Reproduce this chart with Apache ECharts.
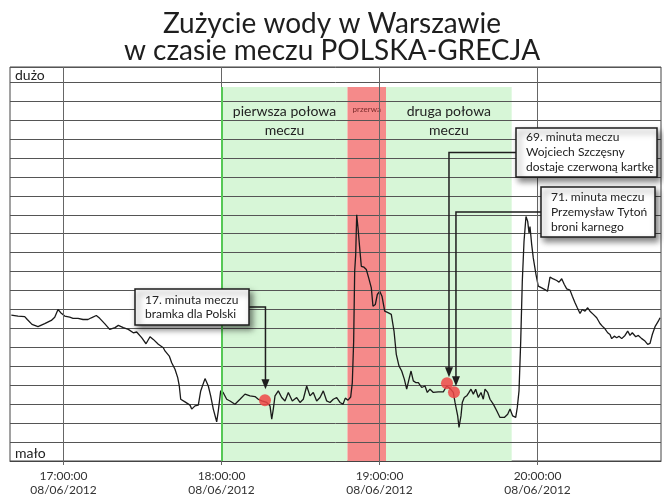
<!DOCTYPE html>
<html><head><meta charset="utf-8">
<script src="https://cdn.jsdelivr.net/npm/echarts@6/dist/echarts.min.js"></script>
<style>html,body{margin:0;padding:0;background:#fff}#c{width:664px;height:497px}</style>
</head><body><div id="c"></div>
<script>
// ---------------- data ----------------
const times = ["16:40:11","16:42:43","16:45:16","16:46:15","16:48:02","16:50:19","16:52:52","16:55:22","16:56:40","16:57:55","16:58:56","17:00:28","17:02:21","17:03:37","17:05:31","17:07:24","17:09:18","17:10:34","17:12:27","17:13:45","17:15:38","17:17:32","17:19:34","17:20:49","17:22:43","17:24:37","17:26:30","17:27:47","17:29:41","17:31:20","17:32:51","17:34:06","17:36:00","17:37:54","17:38:32","17:40:10","17:41:05","17:42:20","17:43:22","17:43:58","17:44:30","17:46:08","17:48:02","17:48:41","17:49:56","17:51:11","17:52:06","17:53:44","17:54:59","17:55:53","17:56:53","17:58:10","17:58:47","17:59:41","18:00:34","18:01:58","18:03:13","18:05:07","18:07:01","18:08:55","18:10:49","18:12:43","18:13:58","18:15:16","18:17:10","18:18:25","18:19:04","18:19:40","18:20:19","18:21:34","18:22:51","18:24:06","18:25:22","18:26:53","18:28:33","18:29:48","18:31:03","18:32:21","18:33:36","18:34:51","18:36:08","18:37:24","18:38:39","18:39:56","18:41:12","18:42:27","18:43:44","18:44:59","18:46:08","18:47:00","18:48:02","18:49:03","18:49:40","18:50:11","18:50:34","18:50:57","18:51:20","18:51:50","18:52:28","18:53:05","18:54:07","18:54:59","18:55:53","18:56:53","18:57:31","18:58:24","18:59:10","19:00:04","19:00:56","19:01:58","19:03:13","19:04:28","19:05:30","19:06:22","19:07:23","19:08:25","19:09:25","19:10:19","19:11:12","19:11:58","19:12:50","19:13:44","19:14:44","19:16:01","19:17:16","19:18:09","19:19:10","19:20:26","19:22:19","19:24:13","19:25:31","19:26:46","19:28:01","19:28:40","19:29:41","19:30:11","19:30:56","19:31:26","19:32:11","19:33:07","19:33:59","19:34:44","19:35:37","19:36:31","19:37:31","19:38:32","19:39:24","19:40:03","19:41:05","19:41:57","19:43:12","19:44:30","19:45:45","19:47:23","19:48:40","19:49:33","19:50:34","19:51:43","19:52:19","19:52:58","19:53:37","19:54:13","19:54:52","19:55:37","19:56:16","19:56:46","19:57:08","19:57:47","19:58:23","19:59:25","20:00:17","20:01:35","20:02:50","20:03:47","20:04:44","20:05:59","20:07:17","20:08:10","20:09:11","20:10:10","20:11:05","20:12:20","20:13:13","20:14:14","20:15:06","20:16:08","20:17:00","20:18:02","20:19:03","20:19:55","20:21:11","20:22:28","20:23:43","20:24:35","20:25:37","20:26:38","20:27:31","20:28:10","20:29:09","20:30:04","20:30:56","20:31:58","20:33:13","20:34:14","20:35:07","20:35:59","20:37:17","20:38:16","20:39:34","20:40:49","20:41:50","20:42:43","20:43:35","20:44:37","20:45:52","20:46:31"];
const usage = [7.70,7.65,7.62,7.47,7.21,7.09,7.25,7.42,7.59,8.00,7.83,7.65,7.59,7.53,7.53,7.47,7.47,7.56,7.68,7.53,7.25,6.95,7.04,7.16,7.04,6.95,6.77,6.81,6.51,6.19,6.56,6.42,6.16,5.98,5.81,5.54,5.19,4.84,4.40,3.96,3.26,3.12,2.95,2.74,2.91,2.95,3.70,4.35,3.96,3.44,2.74,2.07,2.65,3.70,3.63,3.26,3.17,3.00,3.26,3.53,3.44,3.40,3.26,3.17,3.09,2.91,2.21,2.74,3.44,3.70,3.35,3.17,3.62,3.17,3.35,3.09,3.26,3.96,3.44,3.62,3.17,3.35,3.70,3.17,3.09,3.26,3.35,3.09,3.00,3.32,3.21,3.38,4.14,6.33,10.02,10.89,13.00,12.30,11.25,10.28,10.23,10.11,9.67,9.14,8.17,8.26,8.79,8.96,8.70,7.91,7.83,7.74,6.86,5.63,5.02,4.75,4.32,3.79,4.32,4.75,4.23,4.14,4.14,3.88,3.96,3.62,3.79,3.62,3.65,3.65,3.96,3.83,3.62,3.09,2.38,1.77,2.38,3.09,3.35,3.44,3.62,3.79,3.53,3.79,3.35,3.62,3.26,3.79,3.62,3.26,3.00,2.65,2.30,2.30,2.47,2.74,2.38,2.30,2.83,3.70,6.33,9.49,11.59,12.91,12.65,12.04,12.38,11.42,10.72,9.84,9.23,9.14,9.05,8.96,9.71,9.61,9.53,9.44,9.62,9.32,9.09,9.02,8.70,8.35,8.09,7.79,8.00,7.91,8.09,7.91,7.74,7.56,7.26,7.12,6.98,6.77,6.68,6.46,6.59,6.51,6.59,6.46,6.63,6.86,6.63,6.77,6.56,6.63,6.46,6.33,6.16,6.21,6.68,7.09,7.38,7.56];

const tickTimes = ["17:00:00","18:00:00","19:00:00","20:00:00"];
const tickDate = "08/06/2012";
const axisStart = "16:39:41";
const axisEnd = "20:46:53";

const periodNames  = ["pierwsza połowa\nmeczu", "przerwa", "druga połowa\nmeczu"];
const periodStarts = ["18:00:00", "18:47:50", "19:02:28"];
const periodEnds   = ["18:47:50", "19:02:28", "19:50:11"];
const periodIsBreak = [false, true, false];

const eventTimes  = ["18:16:30", "19:25:37", "19:28:16"];
const eventValues = [3.21, 4.10, 3.63];
const eventTexts  = [
  "17. minuta meczu\nbramka dla Polski",
  "69. minuta meczu\nWojciech Szczęsny\ndostaje czerwoną kartkę",
  "71. minuta meczu\nPrzemysław Tytoń\nbroni karnego"
];

const titleText = "Zużycie wody w Warszawie\nw czasie meczu POLSKA-GRECJA";
const labelHigh = "dużo";
const labelLow = "mało";

// ---------------- helpers ----------------
const FONT = "Lato, 'Open Sans', sans-serif";
const toMin = s => { const p = s.split(":").map(Number); return (p[0]-16)*60 + p[1] + (p[2]||0)/60; };
const fmt = m => { const h = 16 + Math.floor(m/60); const mm = Math.round(m % 60); return String(h).padStart(2,"0")+":"+String(mm).padStart(2,"0")+":00"; };
const lineData = times.map((t,i) => [toMin(t), usage[i]]);
const tickVals = tickTimes.map(toMin);
const BAND_TOP = 19.75;

const areaData = periodNames.map((n,i) => [
  { name: n, xAxis: toMin(periodStarts[i]), yAxis: 0,
    itemStyle: { color: periodIsBreak[i] ? "#f58a8a" : "#d7f6d7" },
    label: periodIsBreak[i]
      ? { fontSize: 8, color: "#7a2a2a", distance: 18, lineHeight: 10 }
      : { fontSize: 14, color: "#222", distance: 15, lineHeight: 19 } },
  { xAxis: toMin(periodEnds[i]), yAxis: BAND_TOP }
]);

const option = {
  animation: false,
  title: { text: titleText, left: "center", top: 5,
    textStyle: { fontFamily: FONT, fontSize: 28, fontWeight: "normal", color: "#1e1e1e", lineHeight: 27 } },
  grid: { left: 10, right: 3, top: 67, bottom: 35, show: true, borderColor: "#444", borderWidth: 1 },
  xAxis: {
    type: "value", min: toMin(axisStart), max: toMin(axisEnd), z: 2,
    axisLine: { show: true, lineStyle: { color: "#444" } },
    axisTick: { show: true, customValues: tickVals, length: 4, lineStyle: { color: "#666" } },
    axisLabel: { show: true, customValues: tickVals, margin: 8, fontFamily: FONT, fontSize: 12, lineHeight: 14, color: "#333",
      formatter: v => fmt(v) + "\n" + tickDate },
    splitLine: { show: false }
  },
  yAxis: {
    type: "value", min: 0, max: 20.8, interval: 1, z: 2,
    axisLine: { show: false }, axisTick: { show: false }, axisLabel: { show: false },
    splitLine: { show: true, lineStyle: { color: "#555", width: 1 } }
  },
  series: [
    { type: "line", data: [], z: 1, silent: true,
      markArea: { silent: true, label: { show: true, position: "insideTop", fontFamily: FONT }, data: areaData } },
    { type: "line", data: [], z: 2.5, silent: true,
      markLine: { silent: true, symbol: ["none","none"], label: { show: false },
        lineStyle: { color: "#666", type: "solid", width: 1 },
        data: tickVals.map(v => ({ xAxis: v })).concat([[
          { coord: [toMin(periodStarts[0]), 0], lineStyle: { color: "#55c855", width: 2, type: "solid" } },
          { coord: [toMin(periodStarts[0]), BAND_TOP] }
        ]]) } },
    { type: "line", data: lineData, z: 3, showSymbol: false, silent: true,
      lineStyle: { color: "#1a1a1a", width: 1.3 },
      markPoint: { silent: true, symbol: "circle", symbolSize: 12, label: { show: false },
        itemStyle: { color: "rgba(240,70,70,0.85)" },
        data: eventTimes.map((t,i) => ({ coord: [toMin(t), eventValues[i]] })) } }
  ]
};

const chart = echarts.init(document.getElementById("c"));
chart.setOption(option);

// ---------------- annotations (anchored to event points) ----------------
const boxes = [
  { x: 135, y: 289, w: 114, h: 36, side: "right", lh: 14, tipGap: 11, dx: 0.5 },
  { x: 516, y: 128, w: 141, h: 49, side: "left",  lh: 15, tipGap: 6,  dx: 2 },
  { x: 541, y: 187, w: 114, h: 50, side: "left",  lh: 15, tipGap: 6,  dx: 2 }
];
const g = [];
boxes.forEach((b,i) => {
  const p = chart.convertToPixel({ gridIndex: 0 }, [toMin(eventTimes[i]), eventValues[i]]);
  const ax = p[0] + b.dx, tip = p[1] - b.tipGap, ly = b.y + b.h/2;
  const sx = b.side === "right" ? b.x + b.w : b.x;
  g.push({ type: "polyline", z: 20, shape: { points: [[sx, ly], [ax, ly], [ax, tip - 9]] },
    style: { stroke: "#1e1e1e", lineWidth: 1.5, fill: null } });
  g.push({ type: "polygon", z: 20, shape: { points: [[ax-4, tip-10], [ax+4, tip-10], [ax, tip]] },
    style: { fill: "#1e1e1e" } });
  g.push({ type: "rect", z: 21, shape: { x: b.x, y: b.y, width: b.w, height: b.h },
    style: { fill: "#fff", stroke: "#1e1e1e", lineWidth: 1.5, shadowBlur: 6, shadowOffsetX: 3, shadowOffsetY: 4, shadowColor: "rgba(0,0,0,0.5)" } });
  g.push({ type: "text", z: 22, x: b.x + 10, y: b.y + b.h/2,
    style: { text: eventTexts[i], font: "12px " + FONT, fill: "#222", lineHeight: b.lh, textAlign: "left", textVerticalAlign: "middle" } });
});
g.push({ type: "text", z: 22, x: 15, y: 75, style: { text: labelHigh, font: "14px " + FONT, fill: "#222", textVerticalAlign: "middle" } });
g.push({ type: "text", z: 22, x: 15, y: 453, style: { text: labelLow, font: "14px " + FONT, fill: "#222", textVerticalAlign: "middle" } });
chart.setOption({ graphic: g });
</script>
</body></html>
